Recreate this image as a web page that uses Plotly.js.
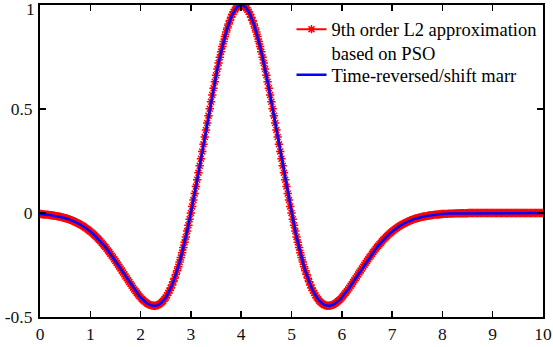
<!DOCTYPE html>
<html>
<head>
<meta charset="utf-8">
<script src="https://cdn.plot.ly/plotly-3.0.1.min.js"></script>
<style>html,body{margin:0;padding:0;background:#fff}#chart{width:553px;height:347px}</style>
</head>
<body>
<div id="chart"></div>
<script>
// samples at t = 0, 0.025, ..., 10
const tStart = 0;
const tStep = 0.025;
const approxValues = [
-0.005,-0.005,-0.006,-0.007,-0.007,-0.008,-0.008,-0.009,-0.010,-0.011,
-0.012,-0.012,-0.014,-0.015,-0.016,-0.017,-0.018,-0.020,-0.021,-0.023,
-0.025,-0.026,-0.028,-0.030,-0.033,-0.035,-0.037,-0.040,-0.043,-0.046,
-0.049,-0.052,-0.055,-0.059,-0.062,-0.066,-0.071,-0.075,-0.079,-0.084,
-0.089,-0.094,-0.099,-0.105,-0.111,-0.117,-0.123,-0.129,-0.136,-0.143,
-0.150,-0.157,-0.164,-0.172,-0.180,-0.188,-0.196,-0.205,-0.213,-0.222,
-0.231,-0.240,-0.249,-0.258,-0.267,-0.277,-0.286,-0.295,-0.305,-0.314,
-0.323,-0.332,-0.341,-0.350,-0.359,-0.368,-0.376,-0.384,-0.392,-0.399,
-0.406,-0.413,-0.419,-0.424,-0.429,-0.434,-0.438,-0.441,-0.443,-0.445,
-0.446,-0.446,-0.446,-0.444,-0.442,-0.438,-0.434,-0.428,-0.422,-0.414,
-0.406,-0.396,-0.385,-0.373,-0.360,-0.346,-0.331,-0.314,-0.296,-0.278,
-0.258,-0.236,-0.214,-0.191,-0.166,-0.141,-0.115,-0.087,-0.059,-0.030,
0.000,0.031,0.062,0.094,0.127,0.160,0.193,0.227,0.261,0.296,
0.330,0.365,0.399,0.433,0.468,0.501,0.535,0.567,0.600,0.631,
0.662,0.692,0.721,0.749,0.775,0.801,0.825,0.848,0.870,0.890,
0.909,0.926,0.941,0.955,0.967,0.977,0.985,0.992,0.996,0.999,
1.000,
0.999,0.996,0.992,0.985,0.977,0.967,0.955,0.941,0.926,0.909,
0.890,0.870,0.848,0.825,0.801,0.775,0.749,0.721,0.692,0.662,
0.631,0.600,0.567,0.535,0.501,0.468,0.433,0.399,0.365,0.330,
0.296,0.261,0.227,0.193,0.160,0.127,0.094,0.062,0.031,0.000,
-0.030,-0.059,-0.087,-0.115,-0.141,-0.166,-0.191,-0.214,-0.236,-0.258,
-0.278,-0.296,-0.314,-0.331,-0.346,-0.360,-0.373,-0.385,-0.396,-0.406,
-0.414,-0.422,-0.428,-0.434,-0.438,-0.442,-0.444,-0.446,-0.446,-0.446,
-0.445,-0.443,-0.441,-0.438,-0.434,-0.429,-0.424,-0.419,-0.413,-0.406,
-0.399,-0.392,-0.384,-0.376,-0.368,-0.359,-0.350,-0.341,-0.332,-0.323,
-0.314,-0.305,-0.295,-0.286,-0.277,-0.267,-0.258,-0.249,-0.240,-0.231,
-0.222,-0.213,-0.205,-0.196,-0.188,-0.180,-0.172,-0.164,-0.157,-0.150,
-0.143,-0.136,-0.129,-0.123,-0.117,-0.111,-0.105,-0.099,-0.094,-0.089,
-0.084,-0.079,-0.075,-0.071,-0.066,-0.062,-0.059,-0.055,-0.052,-0.049,
-0.046,-0.043,-0.040,-0.037,-0.035,-0.033,-0.030,-0.028,-0.026,-0.025,
-0.023,-0.021,-0.020,-0.018,-0.017,-0.016,-0.015,-0.014,-0.012,-0.012,
-0.011,-0.010,-0.009,-0.008,-0.008,-0.007,-0.007,-0.006,-0.005,-0.005,
-0.004,-0.004,-0.004,-0.004,-0.003,-0.003,-0.003,-0.003,-0.002,-0.002,
-0.002,-0.002,-0.001,-0.001,-0.001,-0.001,-0.001,-0.001,-0.001,-0.001,
0,0,0,0,0,0,0,0,0,0,
0,0,0,0,0,0,0,0,0,0,
0,0,0,0,0,0,0,0,0,0,
0,0,0,0,0,0,0,0,0,0,
0,0,0,0,0,0,0,0,0,0,
0,0,0,0,0,0,0,0,0,0
];
const marrValues = approxValues;
const seriesNames = ["9th order L2 approximation<br>based on PSO", "Time-reversed/shift marr"];
const xTicks = [0,1,2,3,4,5,6,7,8,9,10];
const yTicks = [-0.5,0,0.5,1];
const yTickLabels = ["-0.5","0","0.5","1"];

const font = "Liberation Serif";

const traces = [
  {
    type: "scatter", mode: "lines+markers", name: seriesNames[0], legend: "legend",
    x0: tStart, dx: tStep, y: approxValues,
    line: {color: "#ff0000", width: 2},
    marker: {symbol: "asterisk-open", size: 7, color: "#ff0000", line: {color: "#ff0000", width: 1.5}}
  },
  {
    type: "scatter", mode: "lines", name: seriesNames[1], legend: "legend2",
    x0: tStart, dx: tStep, y: marrValues,
    line: {color: "#0000ff", width: 2.5}
  }
];

const axisCommon = {
  showline: true, linecolor: "#000", linewidth: 2, mirror: "ticks",
  ticks: "inside", ticklen: 6, tickwidth: 1.5, tickcolor: "#000",
  showgrid: false, zeroline: false,
  tickfont: {family: font, size: 17.5, color: "#111"}
};

const legendCommon = {
  xanchor: "left", yanchor: "top",
  bgcolor: "rgba(0,0,0,0)", borderwidth: 0,
  font: {family: font, size: 18.5, color: "#000"},
  valign: "top", tracegroupgap: 0
};

// the top tick label "1" sits below its tick (as in the reference), so it is drawn as an annotation
const yAxisLabels = yTickLabels.slice(0, 3).concat([""]);

const layout = {
  width: 553, height: 347,
  margin: {l: 40, r: 10, t: 5, b: 30},
  paper_bgcolor: "#fff", plot_bgcolor: "#fff",
  showlegend: true,
  font: {family: font},
  legend: Object.assign({}, legendCommon, {x: 0.5, y: 0.982}),
  legend2: Object.assign({}, legendCommon, {x: 0.5, y: 0.836}),
  xaxis: Object.assign({}, axisCommon, {range: [0, 10], tickvals: xTicks, ticktext: xTicks.map(String), ticklabelstandoff: 0}),
  yaxis: Object.assign({}, axisCommon, {range: [-0.5, 1], tickvals: yTicks, ticktext: yAxisLabels, ticklabelstandoff: 2}),
  annotations: [{
    xref: "paper", yref: "y", x: 0, y: yTicks[3], xanchor: "right", yanchor: "top",
    xshift: -3, yshift: 8, showarrow: false, text: yTickLabels[3],
    font: {family: font, size: 17.5, color: "#111"}
  }]
};

Plotly.newPlot("chart", traces, layout, {displayModeBar: false, staticPlot: true});
</script>
</body>
</html>
